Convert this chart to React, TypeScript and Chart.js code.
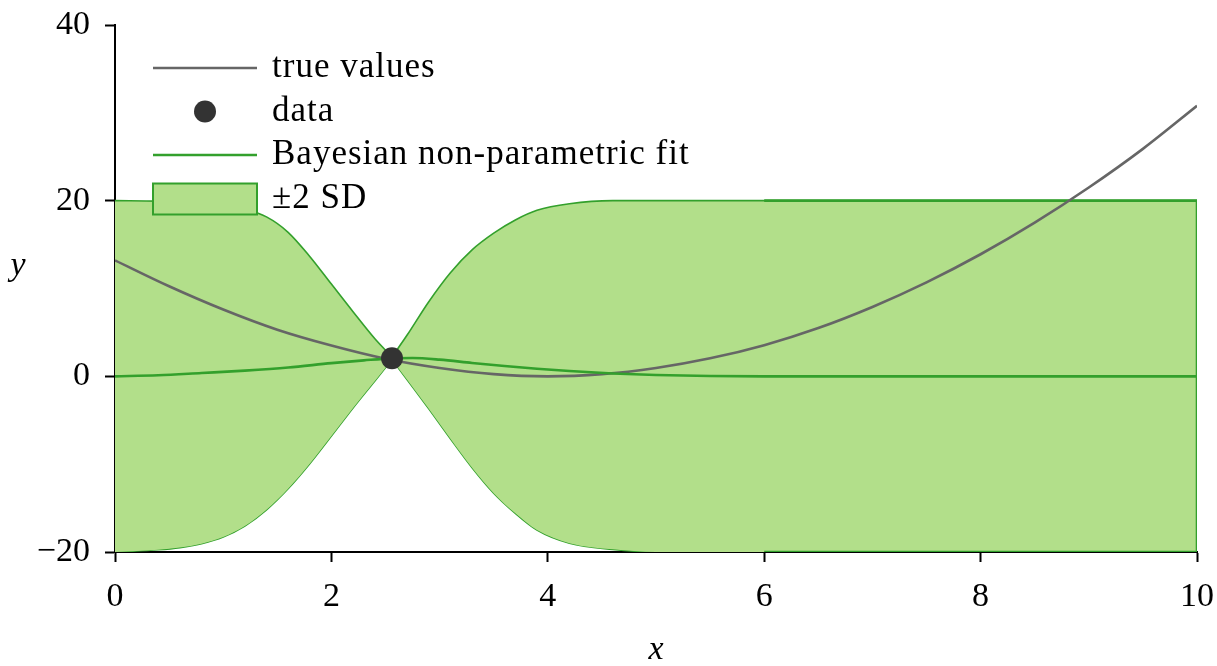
import { useEffect, useRef } from "react";
import { Chart, registerables } from "chart.js";

Chart.register(...registerables);

// True underlying function, sampled along x
const TRUE_X = [0, 0.5, 1, 1.5, 2, 2.5, 3, 3.5, 4, 4.5, 5, 5.5, 6, 6.5, 7, 7.5, 8, 8.5, 9, 9.5, 10];
const TRUE_Y = [13.2, 10.25, 7.6, 5.3, 3.5, 2.0, 0.95, 0.25, 0.0, 0.25, 0.95, 2.05, 3.55, 5.5, 7.9, 10.7, 13.9, 17.5, 21.5, 25.9, 30.8];

// Single observation
const DATA_X = [2.56];
const DATA_Y = [2.05];

// Posterior mean of the fit
const FIT_X = [0, 0.4, 0.8, 1.2, 1.6, 2.0, 2.3, 2.56, 2.75, 3.0, 3.3, 3.6, 3.9, 4.2, 4.6, 5.0, 5.5, 6.0, 10];
const FIT_Y = [0, 0.12, 0.38, 0.65, 1.0, 1.5, 1.82, 2.05, 2.08, 1.9, 1.52, 1.17, 0.86, 0.6, 0.33, 0.15, 0.04, 0, 0];

// ±2 SD band, left of the observation
const BAND_LEFT_X = [0, 0.4, 0.6, 0.8, 1.0, 1.2, 1.4, 1.6, 1.8, 2.0, 2.2, 2.4, 2.56];
const BAND_LEFT_UPPER = [20.0, 19.95, 19.85, 19.7, 19.45, 19.02, 18.15, 16.4, 13.65, 10.5, 7.35, 4.3, 2.2];
const BAND_LEFT_LOWER = [-20.0, -19.75, -19.5, -19.05, -18.3, -17.05, -15.2, -12.8, -9.95, -6.8, -3.6, -0.55, 1.9];

// ±2 SD band, right of the observation
const BAND_RIGHT_X = [2.56, 2.7, 2.9, 3.1, 3.3, 3.5, 3.7, 3.9, 4.2, 4.6, 5.0, 6.0, 10];
const BAND_RIGHT_UPPER = [2.2, 4.7, 8.5, 11.8, 14.4, 16.3, 17.8, 18.9, 19.65, 20.0, 20.0, 20.0, 20.0];
const BAND_RIGHT_LOWER = [1.9, -0.4, -3.7, -7.1, -10.4, -13.3, -15.6, -17.5, -19.0, -19.7, -20.0, -20.0, -20.0];

// Axis ticks
const X_TICKS = [0, 2, 4, 6, 8, 10];
const Y_TICKS = [-20, 0, 20, 40];

const LEGEND_LABELS = ["true values", "data", "Bayesian non-parametric fit", "\u00b12 SD"];

const GRAY = "#666666";
const GREEN = "#33a02c";
const LIGHT_GREEN = "#b2df8a";
const DOT = "#333333";
const FONT = "'Liberation Serif', 'Times New Roman', serif";

const pts = (xs: number[], ys: number[]) => xs.map((x, i) => ({ x, y: ys[i] }));
const last = (a: number[]) => a[a.length - 1];

const overlayPlugin = {
  id: "gpOverlay",
  afterDraw(chart: any) {
    const { ctx, chartArea } = chart;
    ctx.save();
    ctx.fillStyle = "#000";
    ctx.font = `italic 34px ${FONT}`;
    ctx.textAlign = "center";
    ctx.textBaseline = "middle";
    ctx.fillText("y", 18, 266);
    ctx.fillText("x", (chartArea.left + chartArea.right) / 2, 650);

    const x0 = chartArea.left + 38;
    const x1 = x0 + 104;
    const tx = x0 + 119;
    const rows = [68, 111.5, 155, 199];

    // true values
    ctx.strokeStyle = GRAY;
    ctx.lineWidth = 2.5;
    ctx.beginPath();
    ctx.moveTo(x0, rows[0]);
    ctx.lineTo(x1, rows[0]);
    ctx.stroke();
    // data
    ctx.fillStyle = DOT;
    ctx.beginPath();
    ctx.arc((x0 + x1) / 2, rows[1], 11, 0, Math.PI * 2);
    ctx.fill();
    // fit
    ctx.strokeStyle = GREEN;
    ctx.beginPath();
    ctx.moveTo(x0, rows[2]);
    ctx.lineTo(x1, rows[2]);
    ctx.stroke();
    // band
    ctx.fillStyle = LIGHT_GREEN;
    ctx.fillRect(x0, rows[3] - 15.5, x1 - x0, 31);
    ctx.lineWidth = 2;
    ctx.strokeRect(x0, rows[3] - 15.5, x1 - x0, 31);

    ctx.fillStyle = "#000";
    ctx.font = `35px ${FONT}`;
    (ctx as any).letterSpacing = "1px";
    ctx.textAlign = "left";
    ctx.textBaseline = "alphabetic";
    LEGEND_LABELS.forEach((t, i) => ctx.fillText(t, tx, rows[i] + 9));
    ctx.restore();
  },
};

const noScalePadding = (s: any) => {
  s.paddingTop = 0;
  s.paddingBottom = 0;
  s.paddingLeft = 0;
  s.paddingRight = 0;
};

export default function App() {
  const ref = useRef<HTMLCanvasElement | null>(null);

  useEffect(() => {
    if (!ref.current) return;
    const bandStyle = {
      borderColor: GREEN,
      borderWidth: 1.6,
      backgroundColor: LIGHT_GREEN,
      pointRadius: 0,
      cubicInterpolationMode: "monotone" as const,
      order: 5,
    };
    const flatStart = BAND_RIGHT_X.indexOf(6.0);
    const chart = new Chart(ref.current, {
      type: "line",
      data: {
        datasets: [
          {
            label: "data",
            data: pts(DATA_X, DATA_Y),
            showLine: false,
            pointRadius: 11,
            pointHoverRadius: 11,
            pointBackgroundColor: DOT,
            pointBorderWidth: 0,
            order: 0,
          },
          {
            label: "Bayesian non-parametric fit",
            data: pts(FIT_X, FIT_Y),
            borderColor: GREEN,
            borderWidth: 2.6,
            pointRadius: 0,
            cubicInterpolationMode: "monotone",
            fill: false,
            order: 1,
          },
          {
            label: "true values",
            data: pts(TRUE_X, TRUE_Y),
            borderColor: GRAY,
            borderWidth: 2.6,
            pointRadius: 0,
            cubicInterpolationMode: "monotone",
            fill: false,
            order: 2,
          },
          { label: "band-left-upper", data: pts(BAND_LEFT_X, BAND_LEFT_UPPER), fill: "+1", ...bandStyle },
          { label: "band-left-lower", data: pts(BAND_LEFT_X, BAND_LEFT_LOWER), fill: false, ...bandStyle },
          { label: "band-right-upper", data: pts(BAND_RIGHT_X, BAND_RIGHT_UPPER), fill: "+1", ...bandStyle },
          { label: "band-right-lower", data: pts(BAND_RIGHT_X, BAND_RIGHT_LOWER), fill: false, ...bandStyle },
          {
            // heavier outline on the flat part of the band and its right edge
            label: "band-outline",
            data: [
              { x: BAND_RIGHT_X[flatStart], y: BAND_RIGHT_UPPER[flatStart] },
              { x: last(BAND_RIGHT_X), y: last(BAND_RIGHT_UPPER) },
              { x: last(BAND_RIGHT_X), y: last(BAND_RIGHT_LOWER) },
              { x: BAND_RIGHT_X[flatStart], y: BAND_RIGHT_LOWER[flatStart] },
            ],
            borderColor: GREEN,
            borderWidth: 2.6,
            pointRadius: 0,
            fill: false,
            order: 4,
          },
        ],
      },
      options: {
        animation: false,
        responsive: true,
        maintainAspectRatio: false,
        layout: { padding: { top: 25, right: 20, left: 0, bottom: 0 } },
        plugins: { legend: { display: false }, tooltip: { enabled: false } },
        scales: {
          x: {
            type: "linear",
            min: 0,
            max: 10,
            afterFit: (s: any) => {
              s.height = 114;
              noScalePadding(s);
            },
            afterBuildTicks: (s: any) => {
              s.ticks = X_TICKS.map((v) => ({ value: v }));
            },
            grid: { drawOnChartArea: false, drawTicks: true, tickLength: 10, tickWidth: 2, tickColor: "#000" },
            border: { display: true, color: "#000", width: 2 },
            ticks: { color: "#000", font: { family: FONT, size: 34 }, padding: 15 },
          },
          y: {
            type: "linear",
            min: -20,
            max: 40,
            afterFit: (s: any) => {
              s.width = 115;
              noScalePadding(s);
            },
            afterBuildTicks: (s: any) => {
              s.ticks = Y_TICKS.map((v) => ({ value: v }));
            },
            grid: { drawOnChartArea: false, drawTicks: true, tickLength: 10, tickWidth: 2, tickColor: "#000" },
            border: { display: true, color: "#000", width: 2 },
            ticks: {
              color: "#000",
              font: { family: FONT, size: 34 },
              padding: 15,
              callback: (v: any) => (Number(v) < 0 ? "\u2212" + Math.abs(Number(v)) : String(v)),
            },
          },
        },
      },
      plugins: [overlayPlugin],
    });
    return () => chart.destroy();
  }, []);

  return (
    <div style={{ position: "fixed", left: 0, top: 0, width: 1217, height: 666, background: "#fff" }}>
      <canvas ref={ref} />
    </div>
  );
}
